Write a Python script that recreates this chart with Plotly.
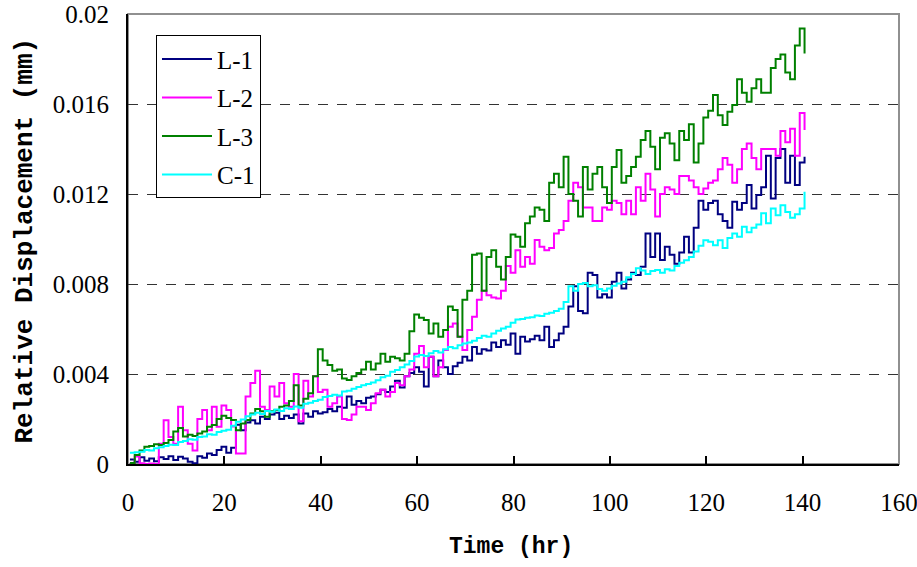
import numpy as np
import plotly.graph_objects as go

# Hourly sampling grid (hr)
hours = np.arange(0.4, 141.0, 1.0)

# Relative displacement readings (mm), one per hour
L1 = [0.00020, 0.00010, 0.00030, 0.00015, 0.00025, 0.00012, 0.00030, 0.00022, 0.00035, 0.00018,
      0.00032, 0.00025, 0.00010, 0.00003, 0.00035, 0.00028, 0.00047, 0.00040, 0.00062, 0.00077,
      0.00050, 0.00072, 0.00175, 0.00150, 0.00185, 0.00195, 0.00180, 0.00210, 0.00200, 0.00220,
      0.00228, 0.00200, 0.00215, 0.00205, 0.00220, 0.00180, 0.00225, 0.00210, 0.00235, 0.00225,
      0.00230, 0.00245, 0.00235, 0.00255, 0.00250, 0.00300, 0.00263, 0.00280, 0.00270, 0.00295,
      0.00300, 0.00310, 0.00330, 0.00320, 0.00345, 0.00370, 0.00340, 0.00390, 0.00405, 0.00430,
      0.00410, 0.00345, 0.00477, 0.00390, 0.00460, 0.00430, 0.00400, 0.00435, 0.00450, 0.00477,
      0.00460, 0.00520, 0.00490, 0.00510, 0.00505, 0.00540, 0.00520, 0.00550, 0.00530, 0.00580,
      0.00490, 0.00566, 0.00545, 0.00555, 0.00570, 0.00550, 0.00610, 0.00520, 0.00550, 0.00580,
      0.00610, 0.00700, 0.00790, 0.00680, 0.00670, 0.00850, 0.00840, 0.00740, 0.00755, 0.00740,
      0.00810, 0.00850, 0.00780, 0.00820, 0.00850, 0.00840, 0.00877, 0.01025, 0.00920, 0.01025,
      0.00907, 0.00966, 0.00930, 0.00890, 0.00940, 0.01010, 0.00940, 0.01050, 0.01170, 0.01130,
      0.01160, 0.01170, 0.01110, 0.01080, 0.01050, 0.01166, 0.01130, 0.01160, 0.01240, 0.01136,
      0.01196, 0.01230, 0.01370, 0.01180, 0.01360, 0.01400, 0.01250, 0.01370, 0.01240, 0.01340,
      0.01366]

L2 = [0.00005, 0.00033, 0.00003, 0.00000, 0.00002, 0.00000, 0.00090, 0.00195, 0.00120, 0.00090,
      0.00255, 0.00150, 0.00090, 0.00060, 0.00200, 0.00240, 0.00150, 0.00255, 0.00166, 0.00260,
      0.00240, 0.00167, 0.00047, 0.00047, 0.00300, 0.00360, 0.00415, 0.00255, 0.00240, 0.00344,
      0.00300, 0.00360, 0.00270, 0.00255, 0.00400, 0.00190, 0.00370, 0.00300, 0.00390, 0.00320,
      0.00330, 0.00255, 0.00270, 0.00300, 0.00200, 0.00196, 0.00220, 0.00255, 0.00255, 0.00240,
      0.00270, 0.00314, 0.00330, 0.00300, 0.00320, 0.00360, 0.00350, 0.00390, 0.00420, 0.00490,
      0.00525, 0.00430, 0.00477, 0.00390, 0.00430, 0.00507, 0.00610, 0.00625, 0.00566, 0.00507,
      0.00596, 0.00655, 0.00730, 0.00770, 0.00750, 0.00740, 0.00736, 0.00770, 0.00880, 0.00850,
      0.00950, 0.00877, 0.00920, 0.00890, 0.00996, 0.00966, 0.00950, 0.00960, 0.01025, 0.01040,
      0.01080, 0.01170, 0.01250, 0.01230, 0.01140, 0.01140, 0.01080, 0.01080, 0.01140, 0.01130,
      0.01170, 0.01160, 0.01110, 0.01170, 0.01110, 0.01230, 0.01170, 0.01290, 0.01220, 0.01100,
      0.01200, 0.01230, 0.01220, 0.01200, 0.01280, 0.01280, 0.01260, 0.01230, 0.01200, 0.01225,
      0.01250, 0.01260, 0.01310, 0.01360, 0.01330, 0.01250, 0.01310, 0.01400, 0.01425, 0.01360,
      0.01310, 0.01400, 0.01400, 0.01400, 0.01370, 0.01480, 0.01430, 0.01490, 0.01370, 0.01560,
      0.01485]

L3 = [0.00005, 0.00040, 0.00060, 0.00077, 0.00080, 0.00088, 0.00084, 0.00093, 0.00107, 0.00145,
      0.00160, 0.00122, 0.00130, 0.00125, 0.00136, 0.00145, 0.00166, 0.00173, 0.00200, 0.00215,
      0.00205, 0.00196, 0.00150, 0.00180, 0.00196, 0.00225, 0.00245, 0.00235, 0.00210, 0.00235,
      0.00240, 0.00255, 0.00260, 0.00280, 0.00350, 0.00260, 0.00290, 0.00314, 0.00390, 0.00510,
      0.00460, 0.00440, 0.00415, 0.00420, 0.00380, 0.00373, 0.00390, 0.00405, 0.00420, 0.00455,
      0.00420, 0.00447, 0.00490, 0.00455, 0.00477, 0.00470, 0.00460, 0.00490, 0.00590, 0.00665,
      0.00650, 0.00640, 0.00580, 0.00625, 0.00566, 0.00596, 0.00700, 0.00684, 0.00566, 0.00730,
      0.00770, 0.00930, 0.00936, 0.00770, 0.00920, 0.00950, 0.00877, 0.00820, 0.00920, 0.01020,
      0.01010, 0.00966, 0.01070, 0.01100, 0.01140, 0.01130, 0.01080, 0.01250, 0.01290, 0.01230,
      0.01366, 0.01200, 0.01170, 0.01100, 0.01320, 0.01220, 0.01290, 0.01320, 0.01230, 0.01160,
      0.01320, 0.01396, 0.01250, 0.01280, 0.01320, 0.01366, 0.01440, 0.01480, 0.01410, 0.01310,
      0.01450, 0.01470, 0.01425, 0.01350, 0.01480, 0.01440, 0.01510, 0.01340, 0.01425, 0.01540,
      0.01570, 0.01640, 0.01550, 0.01507, 0.01566, 0.01596, 0.01710, 0.01650, 0.01610, 0.01670,
      0.01710, 0.01650, 0.01650, 0.01760, 0.01800, 0.01820, 0.01740, 0.01710, 0.01860, 0.01936,
      0.01825]

C1 = [0.00050, 0.00052, 0.00055, 0.00062, 0.00060, 0.00070, 0.00074, 0.00080, 0.00086, 0.00084,
      0.00098, 0.00102, 0.00110, 0.00108, 0.00120, 0.00122, 0.00132, 0.00130, 0.00142, 0.00148,
      0.00152, 0.00170, 0.00188, 0.00198, 0.00212, 0.00220, 0.00228, 0.00222, 0.00236, 0.00232,
      0.00242, 0.00236, 0.00248, 0.00245, 0.00256, 0.00250, 0.00268, 0.00272, 0.00280, 0.00286,
      0.00298, 0.00302, 0.00308, 0.00305, 0.00322, 0.00326, 0.00334, 0.00342, 0.00350, 0.00356,
      0.00362, 0.00372, 0.00386, 0.00392, 0.00410, 0.00418, 0.00430, 0.00442, 0.00458, 0.00478,
      0.00484, 0.00480, 0.00492, 0.00502, 0.00496, 0.00510, 0.00520, 0.00514, 0.00528, 0.00536,
      0.00540, 0.00548, 0.00560, 0.00570, 0.00566, 0.00580, 0.00592, 0.00602, 0.00610, 0.00628,
      0.00642, 0.00645, 0.00650, 0.00652, 0.00660, 0.00658, 0.00668, 0.00672, 0.00680, 0.00690,
      0.00720, 0.00790, 0.00770, 0.00800, 0.00805, 0.00790, 0.00795, 0.00778, 0.00770, 0.00780,
      0.00792, 0.00802, 0.00810, 0.00830, 0.00845, 0.00870, 0.00860, 0.00845, 0.00858, 0.00862,
      0.00850, 0.00866, 0.00860, 0.00880, 0.00895, 0.00905, 0.00920, 0.00945, 0.00970, 0.00995,
      0.00988, 0.00972, 0.00995, 0.00960, 0.01005, 0.01025, 0.01010, 0.01055, 0.01030, 0.01050,
      0.01065, 0.01115, 0.01070, 0.01135, 0.01105, 0.01150, 0.01120, 0.01095, 0.01110, 0.01135,
      0.01210]

series = [("L-1", L1, "#000080"), ("L-2", L2, "#FF00FF"),
          ("L-3", L3, "#008000"), ("C-1", C1, "#00FFFF")]

x_ticks = [0, 20, 40, 60, 80, 100, 120, 140, 160]
y_ticks = [0, 0.004, 0.008, 0.012, 0.016, 0.02]
y_tick_text = ["0", "0.004", "0.008", "0.012", "0.016", "0.02"]

fig = go.Figure()
for i, (name, vals, color) in enumerate(series):
    fig.add_trace(go.Scatter(
        x=hours, y=vals, name=name, mode="lines",
        line=dict(color=color, width=2, shape="hv"),
        legendgroup=f"g{i}",
    ))

tick_font = dict(family="Liberation Serif", size=25, color="black")

fig.update_layout(
    width=917, height=567,
    margin=dict(l=128, r=18, t=14, b=103),
    paper_bgcolor="white", plot_bgcolor="white",
    showlegend=True,
    legend=dict(
        x=0.0363, y=0.953, xanchor="left", yanchor="top",
        bgcolor="white", bordercolor="black", borderwidth=1,
        font=dict(family="Liberation Serif", size=25, color="black"),
        tracegroupgap=3, itemwidth=50,
    ),
    xaxis=dict(
        range=[0, 160.0001], tickvals=x_ticks, ticks="inside", ticklen=8,
        tickwidth=1.5, tickcolor="black", showgrid=False, zeroline=False,
        showline=True, linecolor="black", linewidth=2, automargin=False,
        tickfont=tick_font, ticklabelstandoff=15, ticklabeloverflow="allow",
    ),
    yaxis=dict(
        range=[0, 0.02], tickvals=y_ticks, ticktext=y_tick_text, ticks="",
        showgrid=True, gridcolor="#333333", gridwidth=1, griddash="10px,9px",
        zeroline=False, showline=True, linecolor="black", linewidth=2,
        automargin=False, tickfont=tick_font, ticklabelstandoff=12,
        ticklabeloverflow="allow",
    ),
    shapes=[dict(type="rect", xref="paper", yref="paper", x0=0, y0=0, x1=1, y1=1,
                 line=dict(color="#909090", width=2), layer="below")],
    annotations=[
        dict(text="<b>Time (hr)</b>", xref="paper", yref="paper", x=0.497, y=-0.185,
             xanchor="center", yanchor="middle", showarrow=False,
             font=dict(family="Liberation Mono", size=23, color="black")),
        dict(text="<b>Relative Displacement (mm)</b>", xref="paper", yref="paper",
             x=-0.134, y=0.496, xanchor="center", yanchor="middle", showarrow=False,
             textangle=-90, font=dict(family="Liberation Mono", size=26, color="black")),
    ],
)

fig.write_html("out.html")
